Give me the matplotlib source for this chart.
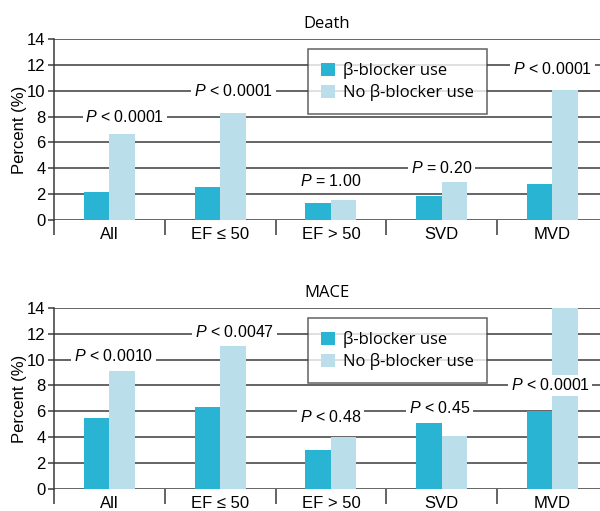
import matplotlib
matplotlib.use('Agg')
import matplotlib.pyplot as plt
import numpy as np

categories = ['All', 'EF ≤ 50', 'EF > 50', 'SVD', 'MVD']
series_names = ['β-blocker use', 'No β-blocker use']

death_bb = [2.2, 2.55, 1.35, 1.9, 2.8]
death_nobb = [6.65, 8.25, 1.6, 2.95, 10.05]
death_p = ['< 0.0001', '< 0.0001', '= 1.00', '= 0.20', '< 0.0001']
death_p_y = [8, 10, 3, 4, 11.7]

mace_bb = [5.5, 6.35, 3.0, 5.1, 6.05]
mace_nobb = [9.15, 11.05, 4.0, 4.1, 13.95]
mace_p = ['< 0.0010', '< 0.0047', '< 0.48', '< 0.45', '< 0.0001']
mace_p_y = [10.3, 12.1, 5.6, 6.3, 8.0]

DARK = '#2ab4d3'
LIGHT = '#bbdfea'
LINE = '#3a3a3a'

plt.rcParams['font.family'] = ['Liberation Sans', 'DejaVu Sans']
plt.rcParams['mathtext.fontset'] = 'custom'
plt.rcParams['mathtext.it'] = 'Liberation Sans:italic'
plt.rcParams['mathtext.rm'] = 'Liberation Sans'


def panel(ax, title, bb, nobb, ptxt, py, pdx):
    x = np.arange(len(categories))
    w = 0.23
    ax.set_xlim(-0.5, 4.43)
    ax.set_ylim(0, 14)
    ax.set_yticks(np.arange(0, 15, 2))
    ax.yaxis.grid(True, color=LINE, lw=1.1)
    ax.set_axisbelow(True)
    ax.bar(x - w / 2, bb, w, color=DARK, label=series_names[0], zorder=2)
    ax.bar(x + w / 2, nobb, w, color=LIGHT, label=series_names[1], zorder=2)
    for sp in ['top', 'right', 'bottom']:
        ax.spines[sp].set_visible(False)
    ax.spines['left'].set_color(LINE)
    ax.spines['left'].set_linewidth(1.1)
    ax.set_xticks(x)
    ax.set_xticklabels(categories, fontsize=12)
    ax.tick_params(axis='x', which='major', length=0, pad=5)
    # category separators below the axis
    ax.set_xticks(np.arange(-0.5, 4.0, 1.0), minor=True)
    ax.tick_params(axis='x', which='minor', length=11, width=1.1, color=LINE)
    ax.tick_params(axis='y', length=4, width=1.1, color=LINE, labelsize=12, pad=2)
    ax.set_ylabel('Percent (%)', fontsize=12, labelpad=0)
    ax.set_title(title, fontsize=12, family=['Open Sans', 'DejaVu Sans'], pad=8)
    for i, (t, yv) in enumerate(zip(ptxt, py)):
        ax.text(i + pdx[i], yv, r'$\mathit{P}$ ' + t, ha='center', va='center', fontsize=11.5,
                zorder=4, bbox=dict(facecolor='white', edgecolor='none', pad=2.0))
    leg = ax.legend(loc='upper left', bbox_to_anchor=(0.465, 0.945), borderaxespad=0,
                    frameon=True, fancybox=False, edgecolor=LINE,
                    handlelength=0.85, handleheight=0.85, handletextpad=0.45,
                    borderpad=0.8, labelspacing=0.3,
                    prop={'family': ['Open Sans', 'DejaVu Sans'], 'size': 12})
    leg.get_frame().set_linewidth(1.1)
    leg.set_zorder(5)


fig = plt.figure(figsize=(6, 5.11), dpi=100)
ax1 = fig.add_axes([0.09, 0.569, 0.91, 0.355])
ax2 = fig.add_axes([0.09, 0.0425, 0.91, 0.3555])
panel(ax1, 'Death', death_bb, death_nobb, death_p, death_p_y, [0.14, 0.12, 0.0, 0.0, 0.0])
panel(ax2, 'MACE', mace_bb, mace_nobb, mace_p, mace_p_y, [0.04, 0.13, 0.0, -0.02, -0.02])
fig.savefig('out.png', dpi=100)
